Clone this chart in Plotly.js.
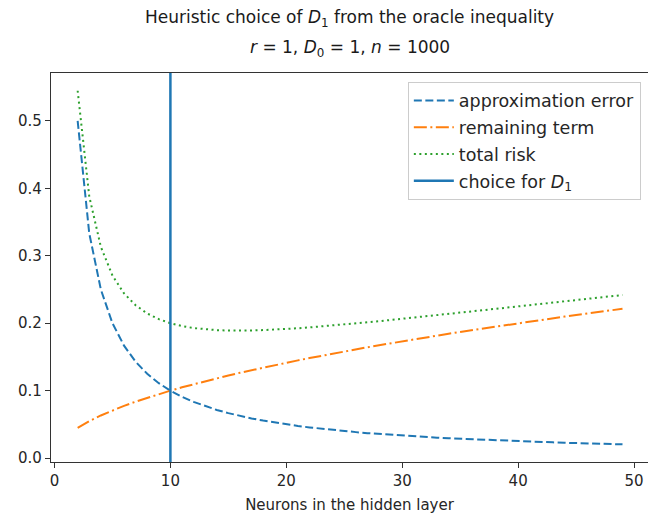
<!DOCTYPE html>
<html><head><meta charset="utf-8">
<script src="https://cdn.plot.ly/plotly-3.0.1.min.js"></script>
<style>html,body{margin:0;padding:0;background:#fff}</style>
</head><body><div id="chart" style="width:648px;height:516px"></div>
<script>
const neurons = [2,3,4,5,6,7,8,9,10,11,12,13,14,15,16,17,18,19,20,21,22,23,24,25,26,27,28,29,30,31,32,33,34,35,36,37,38,39,40,41,42,43,44,45,46,47,48,49];
const approxError = [0.5,0.3333,0.25,0.2,0.1667,0.1429,0.125,0.1111,0.1,0.0909,0.0833,0.0769,0.0714,0.0667,0.0625,0.0588,0.0556,0.0526,0.05,0.0476,0.0455,0.0435,0.0417,0.04,0.0385,0.037,0.0357,0.0345,0.0333,0.0323,0.0313,0.0303,0.0294,0.0286,0.0278,0.027,0.0263,0.0256,0.025,0.0244,0.0238,0.0233,0.0227,0.0222,0.0217,0.0213,0.0208,0.0204];
const remainingTerm = [0.0447,0.0548,0.0632,0.0707,0.0775,0.0837,0.0894,0.0949,0.1,0.1049,0.1095,0.114,0.1183,0.1225,0.1265,0.1304,0.1342,0.1378,0.1414,0.1449,0.1483,0.1517,0.1549,0.1581,0.1612,0.1643,0.1673,0.1703,0.1732,0.1761,0.1789,0.1817,0.1844,0.1871,0.1897,0.1924,0.1949,0.1975,0.2,0.2025,0.2049,0.2074,0.2098,0.2121,0.2145,0.2168,0.2191,0.2214];
const totalRisk = [0.5447,0.3881,0.3132,0.2707,0.2442,0.2266,0.2144,0.206,0.2,0.1958,0.1928,0.1909,0.1897,0.1892,0.189,0.1892,0.1898,0.1904,0.1914,0.1925,0.1938,0.1952,0.1966,0.1981,0.1997,0.2013,0.203,0.2048,0.2065,0.2084,0.2102,0.212,0.2138,0.2157,0.2175,0.2194,0.2212,0.2231,0.225,0.2269,0.2287,0.2307,0.2325,0.2343,0.2362,0.2381,0.2399,0.2418];
const choiceD1 = 10;
const xTicks = [0,10,20,30,40,50];
const yTicks = [0.0,0.1,0.2,0.3,0.4,0.5];

const font = 'DejaVu Sans, sans-serif';
const traces = [
  {x: neurons, y: approxError, mode: 'lines', name: 'approximation error', legendgroup: 'a',
   line: {color: '#1f77b4', width: 2, dash: '8px,3.5px'}},
  {x: neurons, y: remainingTerm, mode: 'lines', name: 'remaining term', legendgroup: 'b',
   line: {color: '#ff7f0e', width: 2, dash: '13px,3.5px,2px,3.5px'}},
  {x: neurons, y: totalRisk, mode: 'lines', name: 'total risk', legendgroup: 'c',
   line: {color: '#2ca02c', width: 2, dash: '2px,3.5px'}},
  {x: [choiceD1, choiceD1], y: [-1, 1], mode: 'lines', name: 'choice for <i>D</i><sub>1</sub>', legendgroup: 'd',
   line: {color: '#1f77b4', width: 2.5}}
];
const layout = {
  width: 648, height: 516,
  paper_bgcolor: '#fff', plot_bgcolor: '#fff',
  margin: {l: 51, r: 0, t: 73, b: 54},
  font: {family: font, size: 15, color: '#262626'},
  title: {text: 'Heuristic choice of <i>D</i><sub>1</sub> from the oracle inequality',
          x: 0.5, xref: 'paper', xanchor: 'center', yref: 'container', y: 0.966, yanchor: 'middle',
          font: {family: font, size: 17, color: '#1a1a1a'}},
  annotations: [{text: '<i>r</i> = 1, <i>D</i><sub>0</sub> = 1, <i>n</i> = 1000', showarrow: false,
          xref: 'paper', yref: 'paper', x: 0.5, xanchor: 'center', y: 1.063, yanchor: 'middle',
          font: {family: font, size: 17, color: '#1a1a1a'}}],
  xaxis: {range: [-0.3, 51.2], tickvals: xTicks, ticktext: xTicks.map(String),
          showgrid: false, zeroline: false, showline: true, linecolor: '#333', linewidth: 1.2, mirror: true,
          ticks: 'outside', ticklen: 5, tickcolor: '#333', tickfont: {size: 15},
          title: {text: 'Neurons in the hidden layer', font: {size: 15}, standoff: 10}},
  yaxis: {range: [-0.0058, 0.571], tickvals: yTicks, ticktext: yTicks.map(v => v.toFixed(1)),
          showgrid: false, zeroline: false, showline: true, linecolor: '#333', linewidth: 1.2,
          ticks: 'outside', ticklen: 5, tickcolor: '#333', tickfont: {size: 15}},
  legend: {x: 0.988, y: 0.978, xanchor: 'right', yanchor: 'top', bgcolor: 'rgba(255,255,255,0.8)',
           bordercolor: '#cccccc', borderwidth: 1, font: {size: 17.5}, tracegroupgap: 1,
           traceorder: 'grouped', itemwidth: 40},
  showlegend: true
};
Plotly.newPlot('chart', traces, layout, {displayModeBar: false, staticPlot: true});
</script></body></html>
